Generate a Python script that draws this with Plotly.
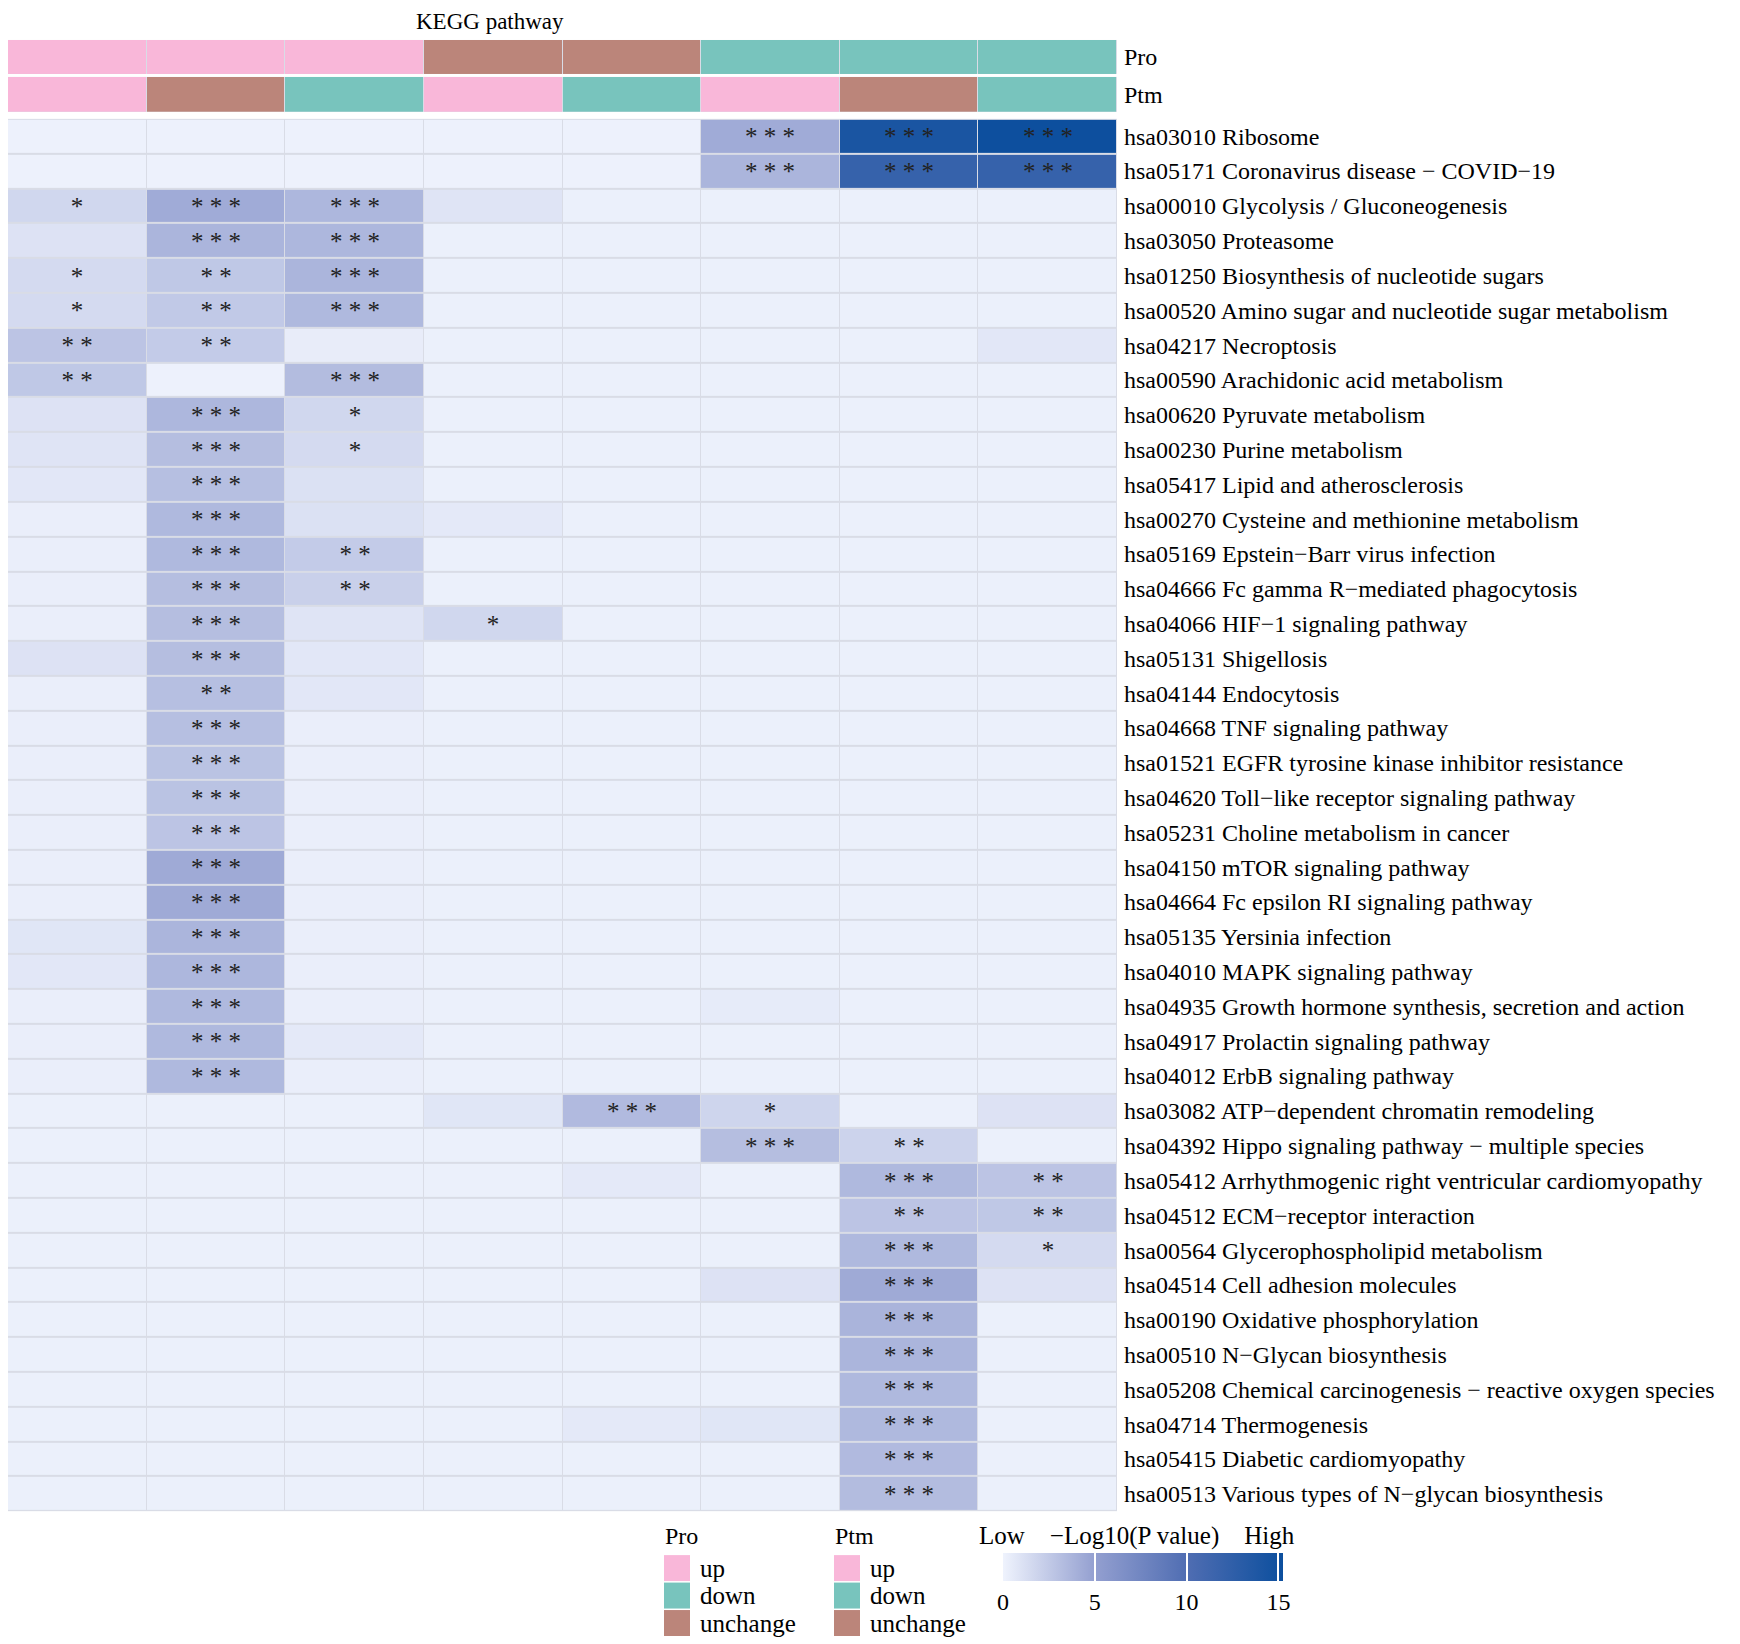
import plotly.graph_objects as go

# column annotations (8 groups)
pro_status = ['up', 'up', 'up', 'unchange', 'unchange', 'down', 'down', 'down']
ptm_status = ['up', 'unchange', 'down', 'up', 'down', 'up', 'unchange', 'down']

pathways = [
    'hsa03010 Ribosome',
    'hsa05171 Coronavirus disease \u2212 COVID\u221219',
    'hsa00010 Glycolysis / Gluconeogenesis',
    'hsa03050 Proteasome',
    'hsa01250 Biosynthesis of nucleotide sugars',
    'hsa00520 Amino sugar and nucleotide sugar metabolism',
    'hsa04217 Necroptosis',
    'hsa00590 Arachidonic acid metabolism',
    'hsa00620 Pyruvate metabolism',
    'hsa00230 Purine metabolism',
    'hsa05417 Lipid and atherosclerosis',
    'hsa00270 Cysteine and methionine metabolism',
    'hsa05169 Epstein\u2212Barr virus infection',
    'hsa04666 Fc gamma R\u2212mediated phagocytosis',
    'hsa04066 HIF\u22121 signaling pathway',
    'hsa05131 Shigellosis',
    'hsa04144 Endocytosis',
    'hsa04668 TNF signaling pathway',
    'hsa01521 EGFR tyrosine kinase inhibitor resistance',
    'hsa04620 Toll\u2212like receptor signaling pathway',
    'hsa05231 Choline metabolism in cancer',
    'hsa04150 mTOR signaling pathway',
    'hsa04664 Fc epsilon RI signaling pathway',
    'hsa05135 Yersinia infection',
    'hsa04010 MAPK signaling pathway',
    'hsa04935 Growth hormone synthesis, secretion and action',
    'hsa04917 Prolactin signaling pathway',
    'hsa04012 ErbB signaling pathway',
    'hsa03082 ATP\u2212dependent chromatin remodeling',
    'hsa04392 Hippo signaling pathway \u2212 multiple species',
    'hsa05412 Arrhythmogenic right ventricular cardiomyopathy',
    'hsa04512 ECM\u2212receptor interaction',
    'hsa00564 Glycerophospholipid metabolism',
    'hsa04514 Cell adhesion molecules',
    'hsa00190 Oxidative phosphorylation',
    'hsa00510 N\u2212Glycan biosynthesis',
    'hsa05208 Chemical carcinogenesis \u2212 reactive oxygen species',
    'hsa04714 Thermogenesis',
    'hsa05415 Diabetic cardiomyopathy',
    'hsa00513 Various types of N\u2212glycan biosynthesis',
]

# -log10(P value)
neglog_p = [
    [0.1, 0.1, 0.1, 0.1, 0.1, 4.3, 14.2, 15.2],
    [0.1, 0.1, 0.1, 0.1, 0.1, 3.7, 12.0, 12.0],
    [1.7, 4.3, 3.6, 0.9, 0.2, 0.2, 0.2, 0.2],
    [1.0, 3.7, 3.6, 0.2, 0.2, 0.2, 0.2, 0.2],
    [1.5, 2.6, 3.7, 0.2, 0.2, 0.2, 0.2, 0.2],
    [1.5, 2.5, 3.5, 0.2, 0.2, 0.2, 0.2, 0.2],
    [2.8, 2.4, 0.4, 0.2, 0.2, 0.2, 0.2, 0.7],
    [2.6, 0.1, 3.3, 0.2, 0.2, 0.2, 0.2, 0.2],
    [1.0, 3.6, 1.7, 0.2, 0.2, 0.2, 0.2, 0.2],
    [0.9, 3.2, 1.5, 0.2, 0.2, 0.2, 0.2, 0.2],
    [0.7, 3.1, 1.1, 0.2, 0.2, 0.2, 0.2, 0.2],
    [0.3, 3.5, 1.1, 0.6, 0.2, 0.2, 0.2, 0.2],
    [0.3, 3.5, 2.4, 0.2, 0.2, 0.2, 0.2, 0.2],
    [0.3, 3.2, 2.1, 0.2, 0.2, 0.2, 0.2, 0.2],
    [0.3, 3.2, 0.9, 1.7, 0.2, 0.2, 0.2, 0.2],
    [1.0, 3.2, 0.7, 0.2, 0.2, 0.2, 0.2, 0.2],
    [0.3, 3.1, 0.7, 0.2, 0.2, 0.2, 0.2, 0.2],
    [0.3, 3.1, 0.3, 0.2, 0.2, 0.2, 0.2, 0.2],
    [0.3, 2.9, 0.3, 0.2, 0.2, 0.2, 0.2, 0.2],
    [0.3, 2.9, 0.3, 0.2, 0.2, 0.2, 0.2, 0.2],
    [0.3, 2.8, 0.3, 0.2, 0.2, 0.2, 0.2, 0.2],
    [0.3, 4.4, 0.3, 0.2, 0.2, 0.2, 0.2, 0.2],
    [0.3, 4.4, 0.3, 0.2, 0.2, 0.2, 0.2, 0.2],
    [0.8, 3.7, 0.3, 0.2, 0.2, 0.2, 0.2, 0.2],
    [0.7, 3.6, 0.3, 0.2, 0.2, 0.2, 0.2, 0.2],
    [0.3, 3.5, 0.3, 0.2, 0.2, 0.5, 0.2, 0.2],
    [0.3, 3.5, 0.6, 0.2, 0.2, 0.2, 0.2, 0.2],
    [0.3, 3.5, 0.3, 0.2, 0.2, 0.2, 0.2, 0.2],
    [0.2, 0.2, 0.2, 0.8, 3.4, 1.8, 0.2, 1.0],
    [0.2, 0.2, 0.2, 0.2, 0.2, 3.2, 1.9, 0.2],
    [0.2, 0.2, 0.2, 0.2, 0.6, 0.2, 3.5, 2.8],
    [0.2, 0.2, 0.2, 0.2, 0.2, 0.2, 2.8, 2.6],
    [0.2, 0.2, 0.2, 0.2, 0.2, 0.2, 3.5, 1.5],
    [0.2, 0.2, 0.2, 0.2, 0.2, 1.0, 4.4, 1.0],
    [0.2, 0.2, 0.2, 0.2, 0.2, 0.2, 3.8, 0.2],
    [0.2, 0.2, 0.2, 0.2, 0.2, 0.2, 3.7, 0.2],
    [0.2, 0.2, 0.2, 0.2, 0.2, 0.2, 3.5, 0.2],
    [0.2, 0.2, 0.2, 0.2, 0.6, 0.8, 3.5, 0.2],
    [0.2, 0.2, 0.2, 0.2, 0.2, 0.2, 3.4, 0.2],
    [0.2, 0.2, 0.2, 0.2, 0.2, 0.2, 3.3, 0.2],
]

# significance marks
stars = [
    ['', '', '', '', '', '***', '***', '***'],
    ['', '', '', '', '', '***', '***', '***'],
    ['*', '***', '***', '', '', '', '', ''],
    ['', '***', '***', '', '', '', '', ''],
    ['*', '**', '***', '', '', '', '', ''],
    ['*', '**', '***', '', '', '', '', ''],
    ['**', '**', '', '', '', '', '', ''],
    ['**', '', '***', '', '', '', '', ''],
    ['', '***', '*', '', '', '', '', ''],
    ['', '***', '*', '', '', '', '', ''],
    ['', '***', '', '', '', '', '', ''],
    ['', '***', '', '', '', '', '', ''],
    ['', '***', '**', '', '', '', '', ''],
    ['', '***', '**', '', '', '', '', ''],
    ['', '***', '', '*', '', '', '', ''],
    ['', '***', '', '', '', '', '', ''],
    ['', '**', '', '', '', '', '', ''],
    ['', '***', '', '', '', '', '', ''],
    ['', '***', '', '', '', '', '', ''],
    ['', '***', '', '', '', '', '', ''],
    ['', '***', '', '', '', '', '', ''],
    ['', '***', '', '', '', '', '', ''],
    ['', '***', '', '', '', '', '', ''],
    ['', '***', '', '', '', '', '', ''],
    ['', '***', '', '', '', '', '', ''],
    ['', '***', '', '', '', '', '', ''],
    ['', '***', '', '', '', '', '', ''],
    ['', '***', '', '', '', '', '', ''],
    ['', '', '', '', '***', '*', '', ''],
    ['', '', '', '', '', '***', '**', ''],
    ['', '', '', '', '', '', '***', '**'],
    ['', '', '', '', '', '', '**', '**'],
    ['', '', '', '', '', '', '***', '*'],
    ['', '', '', '', '', '', '***', ''],
    ['', '', '', '', '', '', '***', ''],
    ['', '', '', '', '', '', '***', ''],
    ['', '', '', '', '', '', '***', ''],
    ['', '', '', '', '', '', '***', ''],
    ['', '', '', '', '', '', '***', ''],
    ['', '', '', '', '', '', '***', ''],
]

status_levels = ['up', 'down', 'unchange']
status_colors = ['#f9b7d9', '#78c4bd', '#bb857a']
cbar_ticks = [0, 5, 10, 15]

# page body adds an 8px margin, so the figure is 8px smaller on each side
W, H = 1732, 1636
OFF = 8
FONT = 'Liberation Serif'


def px(x):
    return (x - OFF) / W


def py(y):
    return 1 - (y - OFF) / H


cols = list(range(len(pro_status)))
star_text = [[' '.join(s) for s in row] for row in stars]

status_scale = []
for i, c in enumerate(status_colors):
    status_scale.append([i / 3, c])
    status_scale.append([(i + 1) / 3, c])

fig = go.Figure()

fig.add_trace(go.Heatmap(
    z=neglog_p, x=cols, y=pathways, text=star_text,
    texttemplate='%{text}', textfont=dict(family=FONT, size=25, color='#222222'),
    colorscale=[[0, '#eff3fd'], [0.33, '#939fd0'], [0.66, '#4f6db2'], [1, '#0c4f9e']],
    zmin=0, zmax=15.25, xgap=1, ygap=2,
    colorbar=dict(
        orientation='h', x=px(1143), xanchor='center', y=py(1555), yanchor='top',
        len=280, lenmode='pixels', thickness=28, outlinewidth=0, xpad=0, ypad=0,
        tickvals=cbar_ticks, ticks='inside', ticklen=28, tickwidth=2, tickcolor='white',
        tickfont=dict(family=FONT, size=24, color='black'),
    ),
    hoverinfo='skip',
))

for status, ax, name in [(pro_status, '2', 'Pro'), (ptm_status, '3', 'Ptm')]:
    fig.add_trace(go.Heatmap(
        z=[[status_levels.index(s) for s in status]], x=cols, y=[name],
        colorscale=status_scale, zmin=-0.5, zmax=2.5, showscale=False,
        xgap=1, xaxis='x' + ax, yaxis='y' + ax, hoverinfo='skip',
    ))

xdom = [0, px(1117)]
xcommon = dict(domain=xdom, range=[-0.5, 7.5], visible=False)
ycommon = dict(side='right', showgrid=False, zeroline=False, ticks='', ticklabelstandoff=6,
               automargin=False, tickfont=dict(family=FONT, size=24, color='black'))

fig.update_layout(
    width=W, height=H,
    margin=dict(l=0, r=0, t=0, b=0),
    paper_bgcolor='white', plot_bgcolor='#d9dce6',
    font=dict(family=FONT, color='black'),
    xaxis=dict(**xcommon),
    xaxis2=dict(**xcommon, anchor='y2'),
    xaxis3=dict(**xcommon, anchor='y3'),
    yaxis=dict(**ycommon, domain=[py(1513), py(119)], autorange='reversed', anchor='x'),
    yaxis2=dict(**ycommon, domain=[py(74), py(40)], anchor='x2'),
    yaxis3=dict(**ycommon, domain=[py(112), py(77)], anchor='x3'),
)

# title
fig.add_annotation(x=px(490), y=py(22), xref='paper', yref='paper', text='KEGG pathway',
                   showarrow=False, font=dict(size=23), xanchor='center', yanchor='middle')

# legends for the annotation bars
for name, x0 in [('Pro', 664), ('Ptm', 834)]:
    fig.add_annotation(x=px(x0 - 1), y=py(1538), xref='paper', yref='paper', text=name,
                       showarrow=False, font=dict(size=24), xanchor='left', yanchor='middle')
    for i, (lvl, col) in enumerate(zip(status_levels, status_colors)):
        top = 1557 + i * 27.5
        fig.add_shape(type='rect', xref='paper', yref='paper',
                      x0=px(x0), x1=px(x0 + 26), y0=py(top + 26), y1=py(top),
                      fillcolor=col, line=dict(width=0))
        fig.add_annotation(x=px(x0 + 34), y=py(top + 13), xref='paper', yref='paper', text=lvl,
                           showarrow=False, font=dict(size=25), xanchor='left', yanchor='middle')

fig.add_annotation(x=px(977), y=py(1538), xref='paper', yref='paper',
                   text='Low\u2003\u2212Log10(P value)\u2003High',
                   showarrow=False, font=dict(size=25), xanchor='left', yanchor='middle')

fig.write_html("out.html")
